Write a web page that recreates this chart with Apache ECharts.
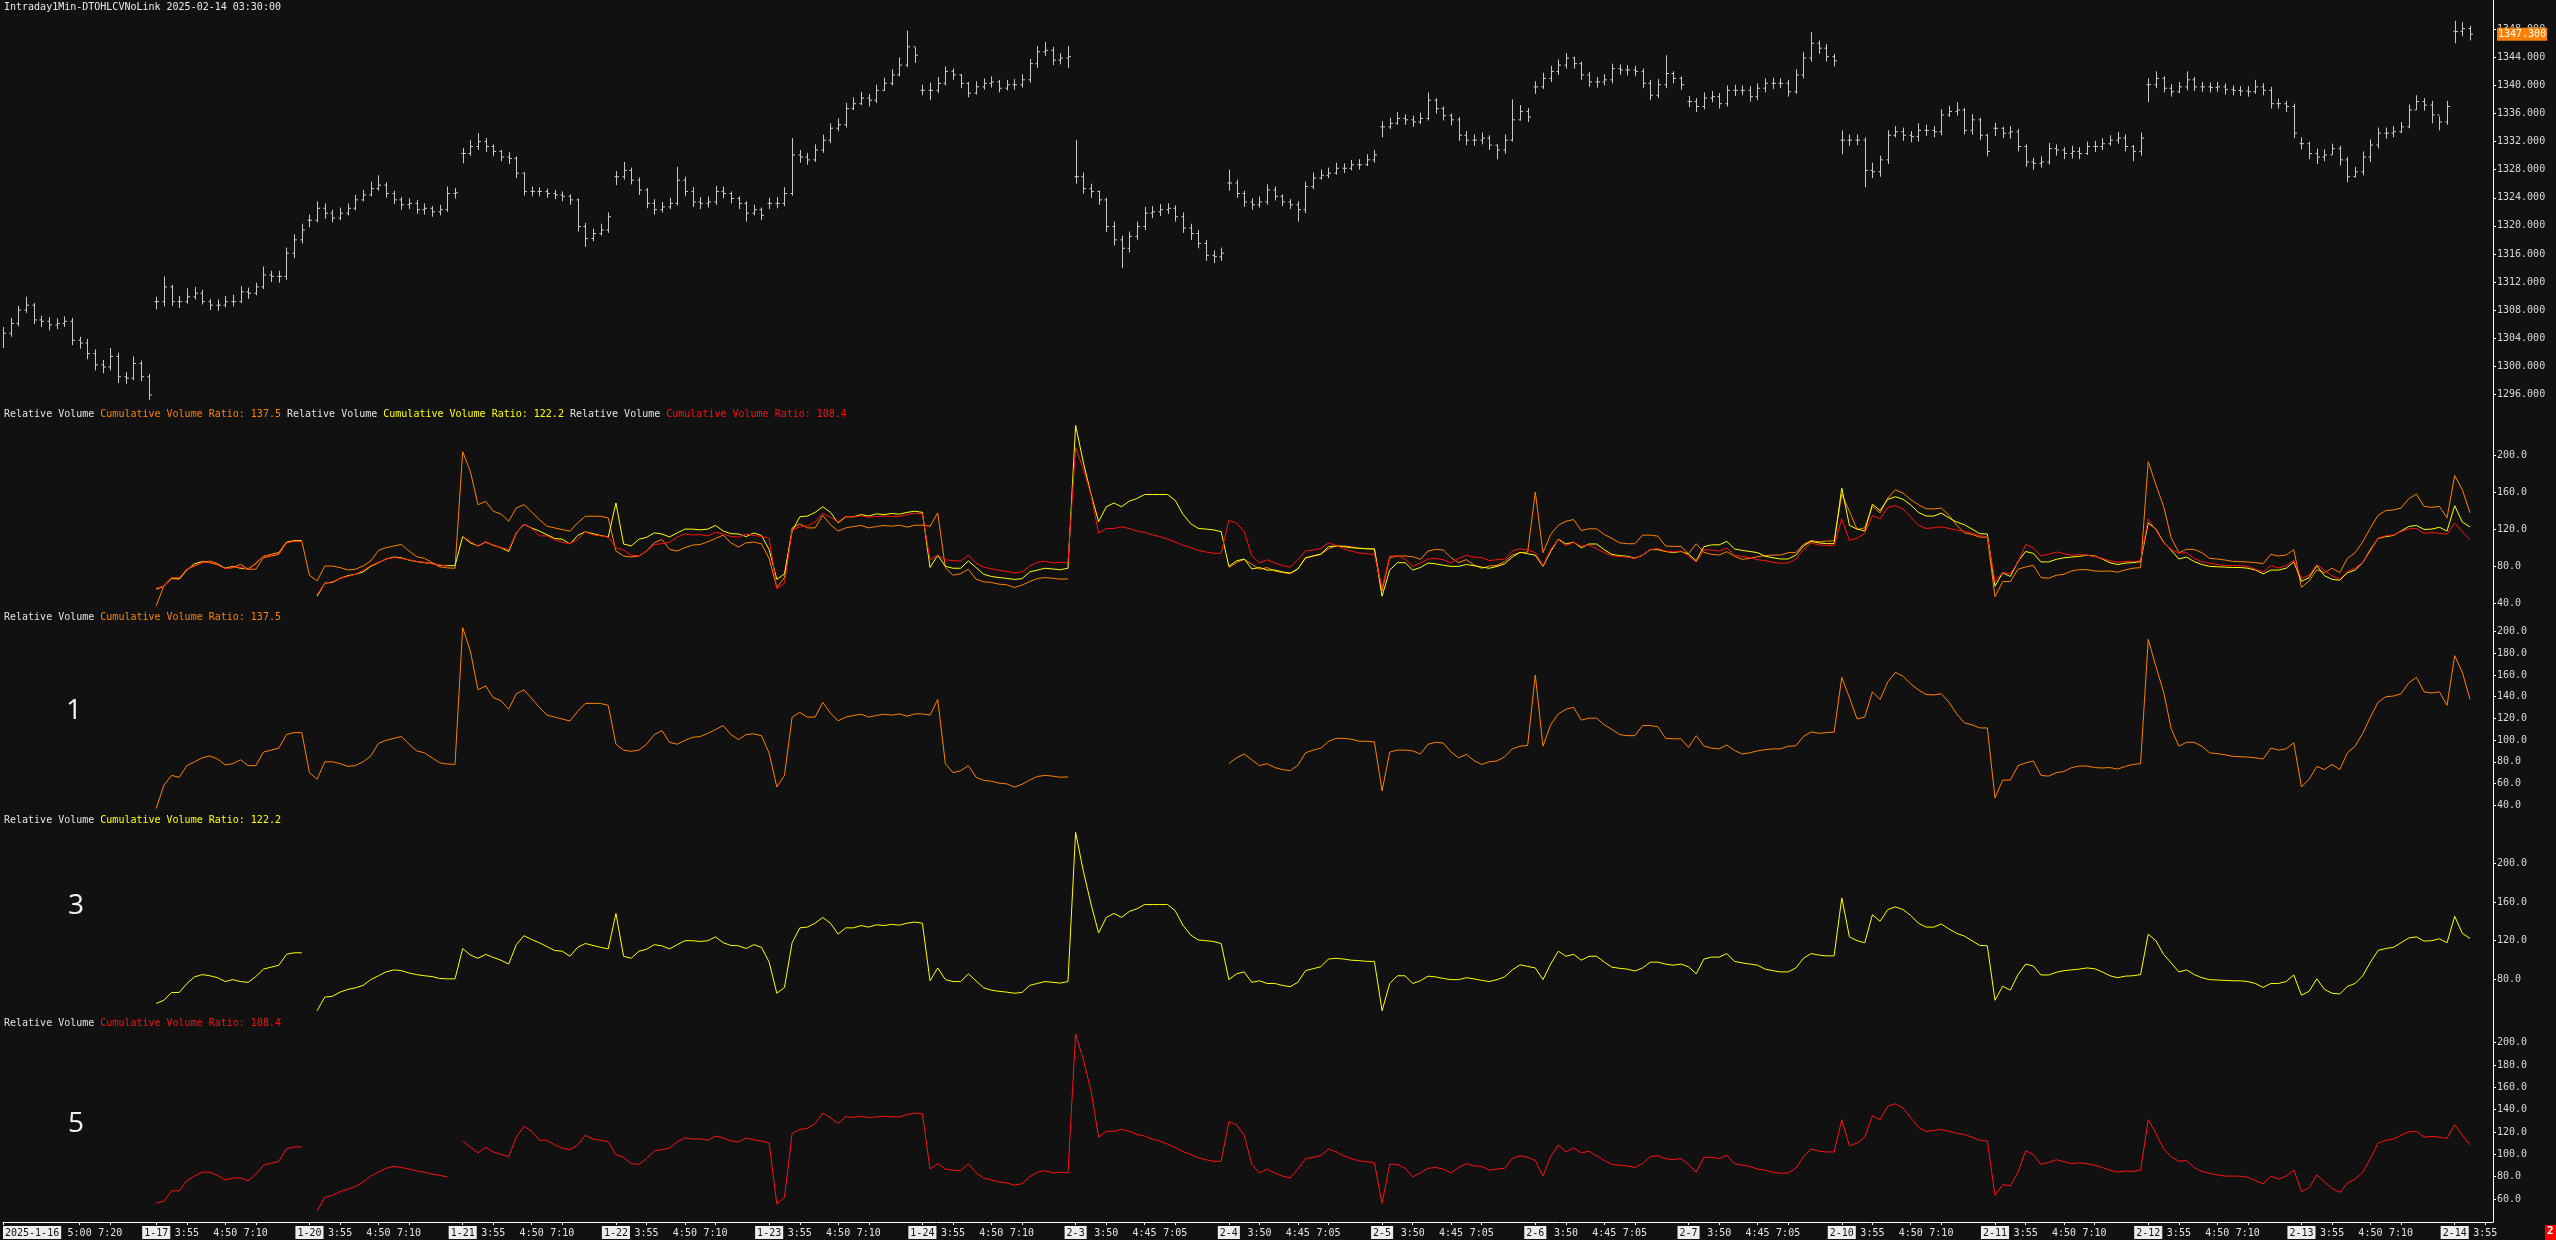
<!DOCTYPE html>
<html>
<head>
<meta charset="utf-8">
<title>Intraday 1Min - Relative Volume</title>
<script src="https://cdn.jsdelivr.net/npm/echarts@6/dist/echarts.min.js"></script>
<style>
html,body{margin:0;padding:0;background:#111111;}
#main{width:2556px;height:1240px;}
</style>
</head>
<body>
<div id="main"></div>
<script>
// ---- axis labels ----
var dayLabels = ['2025-1-16','1-17','1-20','1-21','1-22','1-23','1-24','2-3','2-4','2-5','2-6','2-7','2-10','2-11','2-12','2-13','2-14'];
var barsPerDay = [20,20,20,20,20,20,20,20,20,20,20,20,20,20,20,20,6];
var ticksFirst = [[10,'5:00'],[14,'7:20']];
var ticksJan = [[4,'3:55'],[9,'4:50'],[13,'7:10']];
var ticksFeb = [[4,'3:50'],[9,'4:45'],[13,'7:05']];
var ticksLast = [[4,'3:55']];
var dayTicks = [ticksFirst,ticksJan,ticksJan,ticksJan,ticksJan,ticksJan,ticksJan,
                ticksFeb,ticksFeb,ticksFeb,ticksFeb,ticksFeb,
                ticksJan,ticksJan,ticksJan,ticksJan,ticksLast];
var priceTicks = [1296,1300,1304,1308,1312,1316,1320,1324,1328,1332,1336,1340,1344,1348];
var ticksAll = [40,80,120,160,200];
var ticksOrange = [40,60,80,100,120,140,160,180,200];
var ticksYellow = [80,120,160,200];
var ticksRed = [60,80,100,120,140,160,180,200];

// ---- price (close / high / low) ----
var closePx = [
// 1-16
1304.7,1306.1,1308.0,1308.7,1306.6,1306.4,1305.9,1306.1,1306.4,1303.7,1303.3,1301.8,1300.2,1299.9,1301.4,1298.5,1298.3,1300.4,1298.5,1295.9,
// 1-17
1309.2,1311.3,1309.2,1309.2,1309.9,1310.4,1309.2,1308.7,1308.7,1309.2,1309.2,1310.6,1310.4,1311.3,1313.0,1312.8,1312.8,1316.1,1318.0,1319.4,
// 1-20
1320.8,1322.5,1321.8,1321.1,1321.8,1322.5,1323.7,1324.4,1325.3,1325.8,1324.6,1323.7,1323.0,1323.2,1322.3,1322.5,1322.0,1322.3,1324.6,1324.7,
// 1-21
1330.3,1331.3,1332.0,1331.3,1330.6,1329.8,1329.6,1327.5,1324.9,1324.9,1324.9,1324.6,1324.4,1324.2,1323.7,1319.9,1318.2,1318.9,1319.4,1321.3,
// 1-22
1327.0,1327.9,1326.5,1325.1,1323.2,1322.3,1322.7,1323.2,1326.5,1324.9,1323.4,1323.2,1323.4,1324.9,1324.6,1323.9,1323.2,1321.8,1322.3,1321.5,
// 1-23
1323.2,1323.2,1324.6,1330.1,1329.8,1329.4,1330.8,1332.2,1333.9,1334.4,1336.7,1337.4,1338.2,1337.9,1339.3,1340.3,1341.5,1342.9,1345.5,1344.3,
// 1-24
1339.3,1339.3,1340.3,1342.0,1341.5,1340.3,1338.9,1339.8,1340.3,1340.5,1339.6,1340.1,1340.1,1340.8,1343.1,1344.8,1345.0,1343.6,1343.9,1344.1,
// 2-3
1327.0,1325.3,1324.9,1323.7,1319.9,1318.0,1316.8,1318.5,1319.9,1321.8,1322.0,1322.3,1322.5,1321.3,1319.7,1318.9,1317.5,1315.8,1315.6,1316.1,
// 2-4
1326.1,1324.6,1323.4,1323.0,1323.4,1325.1,1324.2,1323.4,1323.0,1322.3,1325.6,1326.8,1327.2,1327.5,1328.2,1328.2,1328.7,1328.7,1329.4,1330.1,
// 2-5
1334.1,1334.6,1335.3,1335.1,1334.8,1335.3,1337.9,1336.7,1335.7,1335.1,1332.9,1332.2,1332.2,1332.5,1331.5,1330.8,1332.2,1335.1,1336.3,1335.5,
// 2-6
1339.8,1341.0,1342.0,1342.9,1343.9,1343.1,1341.5,1340.5,1340.5,1340.8,1342.4,1342.2,1342.2,1342.0,1340.3,1338.6,1340.1,1341.7,1341.0,1340.1,
// 2-7
1337.7,1337.0,1338.2,1338.4,1337.4,1339.3,1339.3,1339.3,1338.4,1339.6,1340.3,1340.3,1340.3,1339.1,1341.5,1343.9,1346.0,1345.3,1344.1,1343.5,
// 2-10
1332.2,1332.2,1332.2,1327.9,1327.7,1329.4,1332.9,1333.4,1332.9,1332.7,1333.6,1333.6,1333.4,1335.8,1336.3,1336.5,1333.6,1335.1,1332.9,1330.6,
// 2-11
1333.9,1333.2,1333.4,1331.3,1329.1,1328.9,1329.1,1331.0,1330.8,1330.3,1330.6,1330.3,1331.3,1331.3,1331.7,1332.2,1332.5,1331.3,1330.6,1332.5,
// 2-12
1340.1,1341.0,1339.6,1339.1,1339.8,1340.8,1339.8,1339.8,1339.7,1339.8,1339.4,1339.3,1339.2,1339.1,1339.8,1339.3,1337.4,1337.4,1337.0,1333.2,
// 2-13
1331.7,1330.3,1329.8,1330.1,1331.0,1329.4,1327.0,1327.7,1329.8,1331.5,1333.2,1333.2,1333.4,1334.1,1336.5,1337.7,1337.2,1335.8,1334.8,1337.0,
// 2-14
1347.7,1348.1,1347.3,null,null,null
];
var highPx = [
1305.6,1306.9,1308.6,1309.9,1309.0,1307.2,1307.0,1306.8,1307.1,1306.9,1304.2,1303.9,1302.4,1300.9,1302.6,1301.9,1299.2,1301.4,1300.8,1298.9,
1309.9,1312.8,1311.6,1310.0,1311.1,1311.3,1310.9,1309.6,1309.5,1310.0,1310.2,1311.4,1311.2,1311.9,1314.2,1313.6,1313.6,1316.9,1318.8,1320.3,
1321.6,1323.5,1323.2,1322.3,1322.6,1323.2,1324.4,1325.1,1326.3,1327.2,1326.2,1325.0,1324.1,1323.9,1323.7,1323.2,1322.8,1323.0,1325.6,1325.4,
1331.1,1332.2,1333.2,1332.5,1331.6,1330.8,1330.5,1329.9,1327.6,1325.6,1325.5,1325.3,1325.1,1324.9,1324.5,1323.9,1320.4,1319.6,1320.3,1321.9,
1327.8,1329.1,1328.3,1326.9,1325.4,1323.8,1323.4,1324.0,1328.4,1327.0,1325.5,1324.1,1324.2,1325.7,1325.6,1324.9,1324.2,1323.5,1323.0,1322.6,
1324.0,1324.1,1325.5,1332.5,1330.8,1330.4,1331.6,1333.0,1334.6,1335.3,1337.5,1338.3,1339.1,1338.8,1340.1,1341.1,1342.3,1344.0,1347.8,1345.4,
1340.1,1340.4,1341.2,1342.7,1342.4,1341.6,1340.5,1340.6,1341.0,1341.3,1340.8,1340.8,1340.9,1341.6,1343.8,1345.6,1346.2,1345.5,1344.6,1345.6,
1332.2,1327.6,1326.0,1325.0,1324.0,1320.6,1318.6,1319.2,1320.6,1322.7,1322.8,1323.1,1323.2,1322.9,1321.9,1320.3,1319.4,1318.0,1316.5,1316.9,
1328.0,1326.6,1325.0,1323.9,1324.2,1325.9,1325.6,1324.5,1323.8,1323.5,1326.3,1327.6,1328.0,1328.3,1329.0,1328.9,1329.4,1329.5,1330.2,1330.8,
1334.9,1335.4,1336.2,1335.9,1335.7,1336.1,1339.0,1338.2,1337.0,1336.0,1335.5,1333.5,1333.0,1333.3,1332.9,1331.6,1333.0,1338.0,1337.2,1336.8,
1340.6,1341.8,1342.8,1343.7,1344.6,1344.1,1343.4,1341.9,1341.2,1341.6,1343.1,1343.0,1342.9,1342.8,1342.4,1340.8,1340.9,1344.3,1342.0,1341.3,
1338.5,1338.2,1339.0,1339.2,1338.9,1340.0,1340.1,1340.0,1339.9,1340.3,1341.0,1341.1,1341.0,1340.8,1342.3,1344.8,1347.6,1346.4,1345.9,1344.5,
1333.6,1333.0,1333.0,1332.6,1329.0,1330.0,1333.6,1334.2,1334.0,1333.5,1334.6,1334.4,1334.2,1336.6,1337.1,1337.6,1336.8,1335.9,1335.4,1333.1,
1334.7,1334.1,1334.2,1333.8,1331.6,1329.7,1329.9,1331.8,1331.6,1331.2,1331.4,1331.2,1332.0,1332.1,1332.5,1332.9,1333.4,1333.0,1331.5,1333.3,
1341.0,1342.0,1341.3,1340.2,1340.5,1342.0,1341.2,1340.5,1340.4,1340.5,1340.3,1340.0,1339.9,1339.9,1340.8,1340.3,1339.8,1338.1,1337.8,1337.4,
1332.6,1332.0,1331.0,1330.9,1331.7,1331.4,1329.8,1328.4,1330.6,1332.3,1334.0,1334.0,1334.2,1334.8,1337.3,1338.6,1338.2,1337.8,1335.6,1337.8,
1349.2,1349.0,1348.5,null,null,null
];
var lowPx = [
1302.6,1304.2,1305.7,1307.6,1306.0,1305.6,1305.1,1305.3,1305.6,1303.0,1302.5,1301.0,1299.4,1299.0,1299.4,1297.6,1297.5,1298.0,1297.9,1295.2,
1308.1,1308.5,1308.6,1308.3,1308.9,1309.5,1308.8,1308.0,1307.9,1308.4,1308.5,1309.0,1309.6,1310.1,1311.0,1312.0,1311.9,1312.3,1315.4,1317.5,
1319.8,1320.5,1321.0,1320.5,1320.8,1321.5,1322.2,1323.5,1324.2,1325.0,1324.0,1323.1,1322.3,1322.4,1321.7,1321.6,1321.3,1321.5,1322.0,1323.9,
1328.9,1330.0,1330.8,1330.5,1329.9,1329.2,1328.8,1326.8,1324.3,1324.2,1324.2,1324.0,1323.8,1323.5,1323.0,1319.2,1317.0,1317.8,1318.6,1319.0,
1325.8,1326.6,1325.9,1324.4,1322.5,1321.6,1321.9,1322.4,1322.9,1324.2,1322.7,1322.4,1322.6,1323.0,1323.9,1323.2,1322.4,1320.6,1321.5,1320.8,
1322.4,1322.5,1322.8,1324.3,1329.0,1328.7,1329.1,1330.4,1331.8,1333.5,1334.0,1336.5,1337.2,1337.0,1337.5,1339.2,1340.0,1341.3,1342.6,1343.2,
1338.6,1337.9,1338.9,1340.0,1340.8,1339.6,1338.3,1338.7,1339.4,1339.7,1339.0,1339.3,1339.4,1339.7,1340.4,1342.5,1344.2,1342.9,1343.0,1342.5,
1326.0,1324.6,1324.0,1323.0,1319.1,1317.2,1314.0,1316.2,1318.0,1319.4,1321.1,1321.4,1321.7,1320.6,1319.0,1318.0,1316.8,1315.0,1314.7,1315.0,
1325.0,1324.0,1322.7,1322.3,1322.6,1323.0,1323.6,1322.8,1322.4,1320.6,1321.8,1325.2,1326.6,1326.8,1327.3,1327.5,1327.9,1328.0,1328.5,1329.0,
1332.6,1333.8,1334.4,1334.4,1334.1,1334.5,1335.0,1336.0,1335.0,1334.3,1332.1,1331.5,1331.4,1331.6,1330.8,1329.5,1330.3,1332.0,1335.0,1334.8,
1338.8,1339.5,1340.5,1341.5,1342.4,1342.4,1340.8,1339.8,1339.7,1340.0,1340.3,1341.5,1341.4,1341.3,1339.6,1337.9,1338.2,1339.6,1340.3,1339.4,
1336.9,1336.2,1336.6,1337.6,1336.7,1337.0,1338.5,1338.6,1337.7,1337.9,1339.0,1339.5,1339.6,1338.4,1338.8,1341.0,1343.4,1344.5,1343.4,1342.7,
1330.2,1331.4,1331.5,1325.5,1326.8,1327.0,1328.8,1332.6,1332.1,1331.9,1332.0,1332.8,1332.6,1332.9,1335.5,1335.7,1333.0,1333.0,1332.2,1329.9,
1332.8,1332.5,1332.4,1330.6,1328.4,1328.0,1328.3,1328.7,1330.0,1329.5,1329.6,1329.5,1330.1,1330.5,1330.8,1331.4,1331.7,1330.6,1329.2,1330.0,
1337.6,1339.6,1339.0,1338.4,1338.9,1339.3,1339.2,1339.1,1339.0,1339.1,1338.7,1338.6,1338.5,1338.4,1338.8,1338.6,1336.7,1336.7,1336.2,1332.5,
1330.9,1329.5,1328.8,1329.2,1330.1,1328.6,1326.2,1326.9,1327.2,1329.1,1331.0,1332.4,1332.6,1333.2,1333.9,1336.5,1336.4,1334.6,1333.6,1334.4,
1346.0,1347.0,1346.4,null,null,null
];

// ---- Cumulative Volume Ratio, three studies ----
var cvrOrange = [
null,null,null,null,null,null,null,null,null,null,null,null,null,null,null,null,null,null,null,null,
37,58.6,67.5,65.7,76.5,80,83.7,85.4,82.6,77.2,78.3,81.9,76.5,76.5,89,90.8,92.6,105.1,106.9,106.9,
70,64,80,80,78.3,75.8,76.5,80,85.4,96.9,99.8,101.6,103.3,96.2,90.1,88.3,83.7,79.1,78,77.6,
203.6,182.1,146.3,149.9,139.1,136.3,128.4,142.7,146.3,138.4,130.2,123,121.2,119.4,117.6,126.6,133.8,133.8,133.8,132,
96.2,90.8,89.7,90.8,96.2,105.1,108.7,98,96.2,99.8,102.6,103.3,106.2,109.8,113.4,105.1,100.5,105.1,105.8,104,
88,56.8,67.5,121.2,125.5,121.2,121.2,134.8,124.8,117.7,121.2,122.7,123.8,121.2,122.7,123.8,123,124.1,122,124.1,
124.1,123,137.4,78.3,70,71.8,76.5,65.8,62.9,62.2,60.4,59.7,56.8,59.3,63.2,66.5,67.5,66.8,65.8,66.1,
null,null,null,null,null,null,null,null,null,null,null,null,null,null,null,null,null,null,null,null,
78.3,83.7,87.2,81.9,76.5,78.3,74.7,72.9,71.8,76.8,88.3,90.8,92.6,98.7,101.6,101.6,100.8,99,99,98.3,
53.2,89,90.8,90.8,90.1,87.2,96.2,98,97.3,89,83.7,86.9,81.1,77.6,80,80.8,84.7,91.9,94.4,95.1,
159.9,94.4,114.1,124.1,128.4,130.2,118.4,120.2,120.2,114.1,109.8,105.1,104.1,104.1,113.4,113.4,112.3,101.6,101.2,101.2,
93.3,104.1,94.7,92.6,91.9,95.5,90.5,87.2,88.3,90.1,91.2,91.9,91.9,94.4,94.7,103.3,107.6,106.2,106.9,107.3,
157.8,139.1,119.5,121.2,144.5,137.4,153.5,162.4,158.8,151.7,146.3,142,141.6,142.7,134.8,124.1,115.9,114.1,111.2,111.2,
46.8,63.2,63.2,76.5,79,80.8,67.5,66.8,70,71.1,74.7,76.1,76.1,74.7,74.3,74.7,73.3,75.8,77.6,78.3,
192.8,167.8,144.5,110.5,94.4,98,98,94.4,88.3,87.6,86.5,85.1,84.7,84.4,83.7,82.6,92.6,90.8,91.9,97.6,
56.8,64,75.8,72.9,77.6,72.9,88.3,94.4,106.2,121.2,134.8,139.9,140.6,142.7,152.7,157.8,144.5,143.4,144.5,132,
177.8,162.4,137.5,null,null,null
];
var cvrYellow = [
null,null,null,null,null,null,null,null,null,null,null,null,null,null,null,null,null,null,null,null,
55,58.2,66.3,66.3,75.6,82.4,84.8,83.6,81.6,77.6,79.6,77.6,76.8,82.8,90.5,92.5,94.5,105.8,107.4,107.4,
null,47.4,61.5,62.3,66.7,69.5,71.1,73.6,79.6,83.6,87.6,89.7,88.9,86.4,84.8,83.6,82.8,80.8,80.4,80.4,
111.8,105,101.7,105.8,102.5,99.7,95.7,115.8,125.1,121.1,117.8,113.8,109.8,109,103.8,113,117,115,113,111.4,
148.1,103.8,101.7,109,111,115.8,114.6,111.4,115.8,119.9,119.9,119.1,119.9,123.9,117.8,115,114.6,111.8,115.8,113,
97.7,65.5,71.5,117.8,133.2,134,138,144,138,126.7,133.2,133.2,135.6,134,136.4,135.6,136.8,136,138,139.2,
138,78.4,91.7,79.6,77.6,77.6,85.6,78.4,71.1,68.7,67.5,66.7,65.5,66.3,73.6,75.6,77.6,76.8,76,77.6,
232,192.3,158.1,127.9,144,148.1,144,150.1,152.9,157.3,157.3,157.3,157.3,150.9,136,125.9,120.7,119.9,119.1,117,
79.6,85.6,87.6,76.8,78.4,75.6,75.6,73.6,72.3,76.8,88.9,90.9,92.9,100.9,101.7,100.9,99.7,99.3,98.5,98.5,
47.4,75.6,83.6,83.6,75.6,78.4,83.2,82.4,80.8,79.6,79.6,81.6,80.4,78.8,77.6,79.6,82.4,89.7,94.9,93.3,
91.7,79.6,95.7,109,103.8,105.8,99.7,103.8,103.8,97.7,92.5,91.3,90.5,88.5,91.7,97.7,97.7,95.7,94.5,95.7,
92.9,85.6,100.9,102.9,102.9,106.6,98.5,96.9,95.7,94.5,90.5,88.9,87.6,87.6,91.7,101.7,106.6,105,104.2,104.2,
164.2,123.9,119.9,117.8,146.8,140,152.1,154.9,152.1,146,138,134,134,137.2,132,127.5,124.7,119.9,115,114.6,
58.2,72.7,68.7,84.8,95.7,93.7,84.4,84.4,87.2,88.9,89.7,90.5,91.7,90.9,87.6,83.6,81.6,83.2,83.6,84.8,
126.7,119.9,105.8,96.9,87.6,89.7,84.8,81.6,79.6,79.2,78.8,78.4,78.4,77.6,75.6,71.5,75.6,75.6,77.6,84.4,
63.5,67.5,80.4,69.5,65.5,64.7,72.7,75.6,83.6,97.7,109.8,111.8,113,117.8,122.7,123.9,119.5,119.9,121.9,117.8,
145.2,127.5,122.2,null,null,null
];
var cvrRed = [
null,null,null,null,null,null,null,null,null,null,null,null,null,null,null,null,null,null,null,null,
56.2,57.9,67.3,67.3,76.4,80.5,84,84,81.2,77,78.8,78.8,76.4,82.3,90.3,92,93.8,104.9,106.7,106.7,
null,49.2,61.4,63.1,66.6,68.7,71.1,75.3,80.5,84,87.5,89.2,88.2,86.8,85.1,84,82.3,81.2,79.8,null,
111.9,106.7,101.4,106.3,102.1,100,97.9,115.4,125.1,120.6,112.6,112.6,108.4,105.6,104.2,108.4,117.1,113.6,112.6,111.2,
99.7,97.3,91.7,91,96.2,103.2,104.2,105.6,111.2,114.7,113.6,113.9,112.6,116.4,114.7,112,111.2,114.7,112.9,112,
110.1,55.5,61.4,118.8,122.3,123.4,127.6,137,132.8,127.6,133.8,133.1,134.2,132.8,133.5,134.2,133.5,133.5,135.6,137,
136.3,86.8,91.7,86.8,85.8,85.4,91.7,83.3,78.8,77,75.3,74.3,72.5,73.6,79.8,84,85.4,83.3,84,83.3,
207.7,185,157.2,115.4,120.6,120.6,122.3,120.6,117.8,116.4,113.6,111.9,109.1,106,102.5,100,96.9,95.2,93.8,93.8,
129.3,126.5,117.1,91,83.3,86.8,83.3,80.5,78.8,86.8,96.2,97.3,99,104.9,102.2,98.7,96.2,94.1,93.4,92.4,
56.2,91,91,87.5,79.8,83.3,87.5,88.2,86.8,83.3,88.2,91.7,89.6,89.2,85.8,86.8,87.5,96.2,98.7,97.3,
94.5,80.5,97.9,108.4,102.1,105.6,101.4,102.8,98.7,94.5,91,90.3,89.6,88.2,91.7,97.9,98.7,96.2,95.2,96.2,
91,84,97.3,97.3,96.2,99.3,91.7,90.3,89.2,86.8,85.8,84,83,83.3,87.5,97.9,104.9,102.8,102.1,102.1,
131,107.7,110.1,115.4,134.5,131,143.2,145.3,141.5,132.8,124.1,120.6,121.3,122.3,120.6,118.8,117.8,115.4,112.6,111.9,
63.1,72.9,71.8,84,103.2,99.7,91,92.7,95.2,93.4,91.7,92.4,91.7,90.3,88.2,85.8,84,85.1,84.7,85.8,
131,118.8,104.9,97.9,93.8,94.5,88.2,84.7,83,81.6,80.5,80.5,80.5,79.5,76.4,73.6,80.5,77.8,80.5,86.1,
66.6,70.1,81.6,75.3,69.4,65.9,74.3,77.8,84,96.2,110.1,112.6,113.6,117.1,120.2,120.6,115.4,116.1,115.4,114.3,
126.5,117.1,108.4,null,null,null
];

// ---- build category axis ----
var cats = [];
var dayStart = {};
var dayOfIdx = [];
dayLabels.forEach(function (d, di) {
    var start = cats.length;
    dayStart[start] = true;
    for (var k = 0; k < barsPerDay[di]; k++) {
        cats.push('');
        dayOfIdx.push(k);
    }
    cats[start] = d;
    dayTicks[di].forEach(function (t) { cats[start + t[0]] = t[1]; });
});

function lastValue(arr) {
    for (var i = arr.length - 1; i >= 0; i--) if (arr[i] != null) return arr[i];
    return null;
}

var priceBars = [];
for (var i = 0; i < cats.length; i++) {
    if (closePx[i] == null) continue;
    var open = (dayOfIdx[i] > 0 && closePx[i - 1] != null) ? closePx[i - 1] : closePx[i];
    priceBars.push([i, open, closePx[i], lowPx[i], highPx[i]]);
}

var C_OR = '#ff8000', C_YE = '#ffff00', C_RE = '#ff1010', C_BAR = '#c8c8c8';
var MONO = 'DejaVu Sans Mono';

function renderBar(params, api) {
    var x = api.value(0);
    var o = api.coord([x, api.value(1)]);
    var c = api.coord([x, api.value(2)]);
    var l = api.coord([x, api.value(3)]);
    var h = api.coord([x, api.value(4)]);
    var px = Math.round(h[0]) + 0.5;
    var st = {stroke: C_BAR, lineWidth: 1};
    return {type: 'group', children: [
        {type: 'line', shape: {x1: px, y1: h[1], x2: px, y2: l[1]}, style: st},
        {type: 'line', shape: {x1: px - 2, y1: o[1], x2: px, y2: o[1]}, style: st},
        {type: 'line', shape: {x1: px, y1: c[1], x2: px + 2.5, y2: c[1]}, style: st}
    ]};
}

var grids = [
    {top: 0, height: 408},
    {top: 408, height: 204},
    {top: 612, height: 204},
    {top: 816, height: 204},
    {top: 1020, height: 202}
].map(function (g) {
    return {left: 3, right: 63, top: g.top, height: g.height, containLabel: false, outerBoundsMode: 'none', show: false};
});

function xAx(idx, show) {
    return {
        type: 'category', gridIndex: idx, data: cats, boundaryGap: false, show: show,
        axisLine: {show: show, lineStyle: {color: '#ffffff', width: 1}},
        axisTick: {show: show, length: 3, lineStyle: {color: '#ffffff'},
                   interval: function (i, v) { return v !== ''; }},
        axisLabel: {
            show: show, margin: 4, alignMinLabel: 'left', hideOverlap: false,
            interval: function (i, v) { return v !== ''; },
            formatter: function (v, i) { return dayStart[i] ? '{d|' + v + '}' : '{t|' + v + '}'; },
            rich: {
                d: {backgroundColor: '#ececec', color: '#111111', padding: [2, 2, 1, 2], fontFamily: MONO, fontSize: 10},
                t: {color: '#e6e6e6', fontFamily: MONO, fontSize: 10, padding: [2, 0, 1, 0]}
            }
        },
        splitLine: {show: false}
    };
}

function yAx(idx, min, max, ticks, digits) {
    return {
        type: 'value', gridIndex: idx, position: 'right', min: min, max: max, scale: true,
        axisLine: {show: true, lineStyle: {color: '#ffffff', width: 1}},
        axisTick: {show: true, length: 3, lineStyle: {color: '#ffffff'}, customValues: ticks},
        axisLabel: {color: '#d8d8d8', fontFamily: MONO, fontSize: 10, margin: 4,
                    customValues: ticks,
                    formatter: function (v) { return Number(v).toFixed(digits); }},
        splitLine: {show: false}
    };
}

function lineSeries(data, color, xi) {
    return {
        type: 'line', data: data, xAxisIndex: xi, yAxisIndex: xi,
        showSymbol: false, symbol: 'none', connectNulls: false, silent: true,
        lineStyle: {color: color, width: 1}, itemStyle: {color: color}
    };
}

var lastClose = lastValue(closePx);
var vO = lastValue(cvrOrange).toFixed(1), vY = lastValue(cvrYellow).toFixed(1), vR = lastValue(cvrRed).toFixed(1);

var legendRich = {
    w: {fill: '#e0e0e0', fontFamily: MONO, fontSize: 10},
    o: {fill: C_OR, fontFamily: MONO, fontSize: 10},
    y: {fill: C_YE, fontFamily: MONO, fontSize: 10},
    r: {fill: C_RE, fontFamily: MONO, fontSize: 10}
};
function legendText(top, text) {
    return {type: 'text', left: 4, top: top, silent: true,
            style: {text: text, rich: legendRich, fontFamily: MONO, fontSize: 10, fill: '#e0e0e0'}};
}
function bigNum(x, y, t) {
    return {type: 'text', left: x, top: y, silent: true,
            style: {text: t, fill: '#f2f2f2', fontFamily: 'Open Sans', fontSize: 28}};
}

var option = {
    backgroundColor: '#111111',
    animation: false,
    grid: grids,
    xAxis: [xAx(0, false), xAx(1, false), xAx(2, false), xAx(3, false), xAx(4, true)],
    yAxis: [
        yAx(0, 1294.05, 1352.17, priceTicks, 3),
        yAx(1, 30.3, 250.8, ticksAll, 1),
        yAx(2, 30.1, 218, ticksOrange, 1),
        yAx(3, 37.8, 249, ticksYellow, 1),
        yAx(4, 39.4, 220.3, ticksRed, 1)
    ],
    series: [
        {
            type: 'custom', xAxisIndex: 0, yAxisIndex: 0, data: priceBars, renderItem: renderBar,
            encode: {x: 0, y: [1, 2, 3, 4]}, silent: true, clip: true
        },
        // invisible close line, only carries the last-price marker on the axis
        {
            type: 'line', data: closePx, xAxisIndex: 0, yAxisIndex: 0, silent: true,
            showSymbol: false, symbol: 'none', lineStyle: {color: 'rgba(0,0,0,0)', width: 0}, z: 5,
            markLine: {
                silent: true, symbol: 'none', animation: false,
                lineStyle: {color: 'rgba(0,0,0,0)', width: 1, opacity: 1},
                label: {show: true, position: 'end', distance: 4, formatter: lastClose.toFixed(3),
                        backgroundColor: C_OR, color: '#ffffff', opacity: 1, padding: [2, 1, 1, 1],
                        fontFamily: MONO, fontSize: 10},
                data: [{yAxis: lastClose}]
            }
        },
        lineSeries(cvrOrange, C_OR, 1),
        lineSeries(cvrYellow, C_YE, 1),
        lineSeries(cvrRed, C_RE, 1),
        lineSeries(cvrOrange, C_OR, 2),
        lineSeries(cvrYellow, C_YE, 3),
        lineSeries(cvrRed, C_RE, 4)
    ],
    graphic: [
        {type: 'text', left: 4, top: 2, silent: true,
         style: {text: 'Intraday1Min-DTOHLCVNoLink 2025-02-14 03:30:00', fill: '#e8e8e8', fontFamily: MONO, fontSize: 10}},
        legendText(409, '{w|Relative Volume} {o|Cumulative Volume Ratio: ' + vO + '} {w|Relative Volume} {y|Cumulative Volume Ratio: ' + vY + '} {w|Relative Volume} {r|Cumulative Volume Ratio: ' + vR + '}'),
        legendText(612, '{w|Relative Volume} {o|Cumulative Volume Ratio: ' + vO + '}'),
        legendText(815, '{w|Relative Volume} {y|Cumulative Volume Ratio: ' + vY + '}'),
        legendText(1018, '{w|Relative Volume} {r|Cumulative Volume Ratio: ' + vR + '}'),
        bigNum(66, 697, '1'),
        bigNum(68, 892, '3'),
        bigNum(68, 1110, '5'),
        {type: 'rect', left: 2545, top: 1225, silent: true, shape: {width: 11, height: 15}, style: {fill: '#ff0000'}},
        {type: 'text', left: 2547, top: 1226, silent: true, style: {text: '2', fill: '#ffffff', fontFamily: MONO, fontSize: 11, fontWeight: 'bold'}}
    ]
};

var chart = echarts.init(document.getElementById('main'), null, {renderer: 'canvas'});
chart.setOption(option);
</script>
</body>
</html>
